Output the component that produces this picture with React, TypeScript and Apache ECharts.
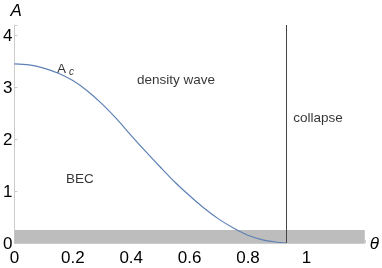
import React, { useEffect, useRef } from "react";
import * as echarts from "echarts";

const thetaValues = [0, 0.05, 0.1, 0.15, 0.2, 0.25, 0.3, 0.35, 0.4, 0.45, 0.5, 0.55, 0.6, 0.65, 0.7, 0.75, 0.8, 0.85, 0.9, 0.93];
const acValues = [3.45, 3.43, 3.37, 3.27, 3.13, 2.93, 2.68, 2.39, 2.07, 1.76, 1.46, 1.17, 0.91, 0.67, 0.46, 0.29, 0.15, 0.06, 0.015, 0];
const collapseTheta = 0.93;
const bandTop = 0.25;
const xTicks = [0, 0.2, 0.4, 0.6, 0.8, 1];
const yTicks = [0, 1, 2, 3, 4];
const regionLabels = [
  { name: "density wave", theta: 0.553, a: 3.15 },
  { name: "collapse", theta: 1.04, a: 2.42 },
  { name: "BEC", theta: 0.224, a: 1.25 },
];
const curveLabel = { theta: 0.175, a: 3.37 };

export default function App() {
  const ref = useRef<HTMLDivElement>(null);
  useEffect(() => {
    const chart = echarts.init(ref.current!, undefined, { renderer: "svg" });
    const font = "Liberation Sans, Arial, sans-serif";
    chart.setOption({
      animation: false,
      grid: { left: 12, right: 16, top: 25, bottom: 25 },
      xAxis: {
        type: "value",
        min: 0,
        max: 1.2,
        interval: 0.2,
        name: "θ",
        nameLocation: "end",
        nameGap: 5,
        nameTextStyle: { fontSize: 17, fontStyle: "italic", color: "#000", fontFamily: font, align: "left", verticalAlign: "middle" },
        axisLine: { show: true, lineStyle: { color: "#cccccc" } },
        axisTick: { show: true, inside: true, length: 3, lineStyle: { color: "#cccccc" } },
        splitLine: { show: false },
        axisLabel: {
          fontSize: 17,
          color: "#000",
          fontFamily: font,
          margin: 6,
          formatter: (v: number) => {
            const t = xTicks.find((x) => Math.abs(x - v) < 1e-6);
            return t === undefined ? "" : String(t);
          },
        },
      },
      yAxis: {
        type: "value",
        min: 0,
        max: 4.2,
        interval: 1,
        name: "A",
        nameLocation: "end",
        nameGap: 6,
        nameTextStyle: { fontSize: 17, fontStyle: "italic", color: "#000", fontFamily: font, align: "left", padding: [0, 0, 0, -4] },
        axisLine: { show: true, lineStyle: { color: "#cccccc" } },
        axisTick: { show: true, inside: true, length: 3, lineStyle: { color: "#cccccc" } },
        splitLine: { show: false },
        axisLabel: {
          fontSize: 17,
          color: "#000",
          fontFamily: font,
          margin: 2,
          formatter: (v: number) => (yTicks.includes(v) ? String(v) : ""),
        },
      },
      series: [
        {
          type: "line",
          data: [],
          silent: true,
          markArea: {
            silent: true,
            itemStyle: { color: "#bdbdbd" },
            data: [[{ coord: [0, 0] }, { coord: [1.2, bandTop] }]],
          },
          markLine: {
            silent: true,
            symbol: "none",
            label: { show: false },
            lineStyle: { color: "#444444", width: 1, type: "solid" },
            data: [[{ coord: [collapseTheta, 0] }, { coord: [collapseTheta, 4.2] }]],
          },
        },
        {
          type: "line",
          data: thetaValues.map((t, i) => [t, acValues[i]]),
          smooth: 0.3,
          showSymbol: false,
          lineStyle: { color: "#5e81b5", width: 1.2 },
          z: 5,
        },
        {
          type: "scatter",
          symbolSize: 0,
          silent: true,
          data: regionLabels.map((r) => ({ value: [r.theta, r.a], name: r.name })),
          label: {
            show: true,
            position: "inside",
            formatter: (p: any) => p.name,
            fontSize: 13.5,
            color: "#000",
            fontFamily: font,
          },
        },
        {
          type: "scatter",
          symbolSize: 0,
          silent: true,
          data: [{ value: [curveLabel.theta, curveLabel.a] }],
          label: {
            show: true,
            position: "inside",
            formatter: "A{s|c}",
            fontSize: 13.5,
            color: "#000",
            fontFamily: font,
            rich: { s: { fontSize: 10, fontStyle: "italic", verticalAlign: "bottom", padding: [6, 0, 0, 3], color: "#000", fontFamily: font } },
          },
        },
      ],
    });
    return () => chart.dispose();
  }, []);
  return <div ref={ref} style={{ position: "fixed", left: 0, top: 0, width: 382, height: 268 }} />;
}
